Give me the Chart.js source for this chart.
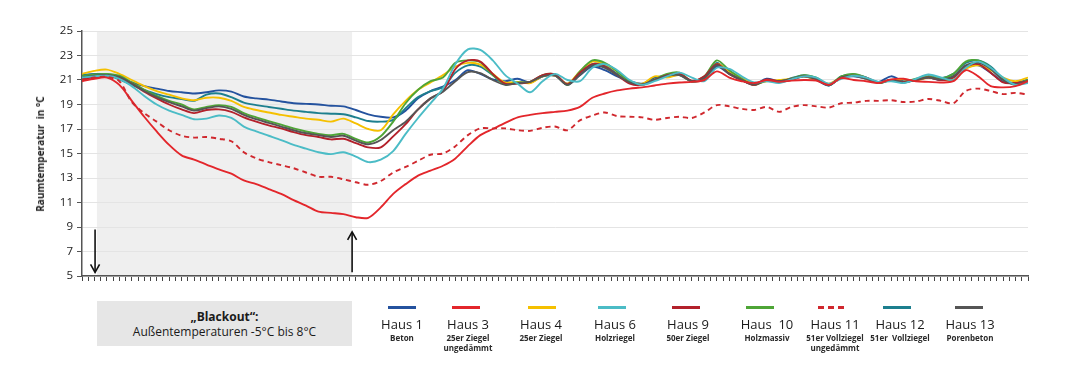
<!DOCTYPE html>
<html><head><meta charset="utf-8">
<script src="https://cdn.jsdelivr.net/npm/chart.js@4.4.1/dist/chart.umd.min.js"></script>
<style>
html,body{margin:0;padding:0;background:#fff;width:1068px;height:383px;overflow:hidden;font-family:'Open Sans',sans-serif}
#wrap{position:relative;width:1068px;height:383px}
canvas{position:absolute;left:0;top:0}
.ytitle{position:absolute;left:40px;top:154px;transform:translate(-50%,-50%) rotate(-90deg);font-size:10px;font-weight:bold;white-space:nowrap;color:#222}
.bo{position:absolute;left:97px;top:301px;width:255px;height:45px;background:#e6e6e6;text-align:center;font-size:12px;color:#1a1a1a;line-height:15px;padding-top:8px;box-sizing:border-box}
.lgl{position:absolute;top:306px;height:3px;width:28px}
.lgt{position:absolute;top:315px;width:90px;margin-left:-45px;text-align:center;color:#1a1a1a}
.lgt .n{font-size:13px;line-height:18px}
.lgt .s{font-size:8px;font-weight:bold;line-height:10px;color:#2a2a2a}
</style></head>
<body><div id="wrap"><canvas id="c" width="1068" height="383"></canvas>
<div class="ytitle">Raumtemperatur&nbsp; in °C</div>
<div class="bo"><b>„Blackout“:</b><br>Außentemperaturen -5°C bis 8°C</div>
<div id="legend"></div>
</div>
<script>
const steps = [0,2,4,6,8,10,12,14,16,18,20,22,24,26,28,30,32,34,36,38,40,42,44,46,48,50,52,54,56,58,60,62,64,66,68,70,72,74,76,78,80,82,84,86,88,90,92,94,96,98,100,102,104,106,108,110,112,114,116,118,120,122,124,126,128,130,132,134,136,138,140,142,144,146,148,150,152];
const yTicks = [5,7,9,11,13,15,17,19,21,23,25];
const houses = ['Haus 1','Haus 3','Haus 4','Haus 6','Haus 9','Haus  10','Haus 11','Haus 12','Haus 13'];
const subtitles = ['Beton','25er Ziegel<br>ungedämmt','25er Ziegel','Holzriegel','50er Ziegel','Holzmassiv','51er Vollziegel<br>ungedämmt','51er&nbsp; Vollziegel','Porenbeton'];
const blackoutStart = 2.4, blackoutEnd = 43.4;

const haus1 = [21.4,21.5,21.45,21.15,20.8,20.5,20.3,20.1,20.0,19.9,
20.0,20.15,20.05,19.65,19.5,19.4,19.25,19.1,19.05,19.0,
18.9,18.85,18.55,18.2,18.0,17.95,18.5,19.5,20.1,20.45,
21.0,21.8,21.5,21.05,20.9,21.1,20.8,21.3,21.35,20.7,
21.4,22.1,21.8,21.3,20.9,20.7,21.2,21.3,21.4,20.9,
21.1,22.1,21.5,21.0,20.65,21.1,20.9,21.1,21.3,21.0,
20.55,21.2,21.3,21.1,20.85,21.3,20.9,21.0,21.2,21.0,
21.3,22.0,22.2,21.6,20.85,20.8,21.0];
const haus3 = [20.9,21.1,21.2,20.6,19.3,18.0,16.8,15.7,14.85,14.5,
14.1,13.7,13.35,12.8,12.5,12.1,11.7,11.2,10.75,10.25,
10.15,10.05,9.8,9.75,10.6,11.7,12.5,13.2,13.6,14.0,
14.6,15.6,16.5,17.0,17.5,17.95,18.15,18.3,18.4,18.5,
18.8,19.55,19.9,20.15,20.3,20.4,20.55,20.7,20.8,20.85,
21.0,21.7,21.2,20.9,20.75,21.0,20.85,20.95,21.0,20.95,
20.6,21.15,21.0,20.9,20.75,21.05,21.1,20.9,20.85,20.8,
20.9,21.8,21.3,20.5,20.4,20.5,20.9];
const haus4 = [21.5,21.75,21.85,21.5,21.0,20.5,20.1,19.8,19.5,19.35,
19.55,19.55,19.3,18.8,18.55,18.35,18.15,18.0,17.85,17.75,
17.6,17.85,17.45,17.0,16.9,18.2,19.3,20.2,20.8,21.4,
22.1,22.4,22.25,21.5,20.8,20.85,20.75,21.3,21.35,20.7,
21.7,22.5,22.3,21.7,20.9,20.7,21.3,21.2,21.4,20.9,
21.1,22.3,21.7,21.2,20.7,20.9,21.0,21.1,21.3,21.0,
20.7,21.2,21.4,21.1,20.8,21.0,21.05,20.95,21.2,21.05,
21.0,21.9,22.2,21.8,21.2,20.9,21.2];
const haus6 = [21.2,21.3,21.35,21.1,20.5,19.7,19.0,18.5,18.15,17.8,
17.85,18.1,17.9,17.2,16.8,16.45,16.1,15.7,15.4,15.1,
14.95,15.1,14.75,14.3,14.5,15.2,16.6,17.9,19.1,20.3,
22.3,23.5,23.45,22.6,21.4,20.7,20.0,20.9,21.5,21.0,
20.9,22.0,22.3,21.8,21.0,20.6,20.9,21.3,21.6,21.2,
20.9,22.0,21.9,21.3,20.8,20.9,20.75,21.05,21.3,21.2,
20.7,21.1,21.35,21.2,20.85,20.9,20.75,21.1,21.45,21.2,
21.0,22.0,22.5,22.0,21.2,20.6,20.75];
const haus9 = [21.1,21.2,21.3,21.2,20.7,20.05,19.5,19.0,18.6,18.3,
18.55,18.6,18.4,17.95,17.6,17.3,17.05,16.75,16.5,16.35,
16.15,16.2,15.85,15.5,15.5,16.4,17.4,18.6,19.5,20.1,
21.9,22.6,22.5,21.5,20.7,20.7,20.85,21.4,21.45,20.65,
21.6,22.3,22.1,21.4,20.7,20.6,21.0,21.4,21.5,20.95,
21.3,22.3,21.5,21.0,20.6,21.05,20.9,21.0,21.3,21.1,
20.6,21.2,21.35,21.2,20.8,21.0,20.85,21.0,21.2,21.0,
21.2,22.1,22.3,21.6,20.8,20.75,20.9];
const haus10 = [21.3,21.45,21.5,21.35,20.8,20.2,19.7,19.3,19.0,18.6,
18.8,18.95,18.8,18.3,17.95,17.65,17.35,17.05,16.8,16.6,
16.5,16.6,16.2,15.9,16.4,17.6,19.1,20.2,20.9,21.2,
22.4,22.6,22.45,21.4,20.65,20.8,20.85,21.4,21.45,20.6,
21.7,22.6,22.4,21.7,20.9,20.6,21.05,21.5,21.6,20.9,
21.3,22.6,21.8,21.1,20.6,20.95,20.9,21.1,21.4,21.2,
20.6,21.3,21.5,21.2,20.75,21.0,20.85,21.1,21.3,21.1,
21.5,22.5,22.6,22.0,21.0,20.7,21.0];
const haus11 = [21.0,21.2,21.25,20.9,19.2,18.3,17.6,16.9,16.45,16.3,
16.35,16.2,16.0,15.1,14.6,14.3,14.05,13.8,13.45,13.1,
13.1,12.9,12.65,12.45,12.75,13.45,13.9,14.4,14.9,15.0,
15.6,16.5,17.05,17.05,17.05,16.9,16.85,17.1,17.2,16.9,
17.7,18.1,18.35,18.05,18.0,17.95,17.75,17.9,18.0,17.9,
18.35,18.95,18.85,18.65,18.55,18.8,18.4,18.8,18.95,18.85,
18.75,19.1,19.15,19.3,19.3,19.35,19.2,19.25,19.45,19.3,
19.1,20.1,20.3,20.1,19.85,19.95,19.8];
const haus12 = [21.4,21.45,21.4,21.05,20.6,20.2,19.85,19.6,19.45,19.3,
19.8,19.9,19.6,19.15,18.95,18.8,18.65,18.5,18.4,18.3,
18.25,18.2,17.95,17.65,17.6,17.75,18.7,19.6,20.1,20.4,
21.6,22.2,22.1,21.4,20.65,20.8,20.8,21.3,21.4,20.6,
21.5,22.3,22.2,21.5,20.8,20.65,21.0,21.4,21.5,20.85,
21.25,22.4,21.6,21.0,20.6,21.0,20.85,21.15,21.4,21.15,
20.55,21.3,21.45,21.2,20.75,21.0,20.8,21.05,21.3,21.15,
21.5,22.4,22.6,22.1,21.1,20.6,20.9];
const haus13 = [21.2,21.35,21.4,21.25,20.7,20.1,19.6,19.2,18.85,18.5,
18.7,18.85,18.65,18.15,17.8,17.5,17.2,16.9,16.65,16.5,
16.35,16.45,16.05,15.75,16.1,16.9,17.6,18.6,19.5,20.05,
20.9,21.65,21.55,21.0,20.6,20.75,20.85,21.3,21.35,20.6,
21.4,22.2,22.0,21.4,20.8,20.65,21.0,21.35,21.4,20.9,
21.15,22.2,21.5,21.0,20.65,20.95,20.9,21.1,21.3,21.05,
20.6,21.2,21.35,21.1,20.8,21.0,20.8,21.0,21.2,21.05,
21.3,22.2,22.4,21.9,21.0,20.65,20.9];

const series = [haus1,haus3,haus4,haus6,haus9,haus10,haus11,haus12,haus13];
const colors = ['#24529e','#e3262b','#f5c000','#4bbcc6','#b3212b','#4ea536','#d0282e','#1d7f8e','#555555'];
const dashes = [[],[],[],[],[],[],[5,4],[],[]];
const drawOrder = [6,1,3,8,4,5,2,7,0];

const datasets = drawOrder.map(k => ({
  label: houses[k],
  data: steps.map((x,i) => ({x, y: series[k][i]})),
  borderColor: colors[k],
  borderWidth: 1.9,
  borderDash: dashes[k],
  pointRadius: 0,
  tension: 0.3,
  fill: false
}));

const bgPlugin = {
  id: 'bg',
  beforeDraw(chart) {
    const {ctx, chartArea, scales} = chart;
    const x0 = scales.x.getPixelForValue(blackoutStart), x1 = scales.x.getPixelForValue(blackoutEnd);
    ctx.save();
    ctx.fillStyle = '#efefef';
    ctx.fillRect(x0, chartArea.top, x1 - x0, chartArea.bottom - chartArea.top);
    ctx.restore();
  },
  afterDatasetsDraw(chart) {
    const {ctx, scales} = chart;
    function arrow(xv, yFrom, yTo) {
      const x = scales.x.getPixelForValue(xv);
      const a = scales.y.getPixelForValue(yFrom), b = scales.y.getPixelForValue(yTo);
      const dir = b > a ? 1 : -1;
      ctx.save();
      ctx.strokeStyle = '#111'; ctx.lineWidth = 1.6;
      ctx.beginPath(); ctx.moveTo(x, a); ctx.lineTo(x, b); ctx.stroke();
      ctx.beginPath(); ctx.moveTo(x - 4.5, b - dir * 8); ctx.lineTo(x, b); ctx.lineTo(x + 4.5, b - dir * 8); ctx.stroke();
      ctx.restore();
    }
    arrow(2.1, 8.8, 5.3);
    arrow(43.4, 5.3, 8.6);
  }
};

new Chart(document.getElementById('c'), {
  type: 'line',
  data: { datasets },
  plugins: [bgPlugin],
  options: {
    responsive: false,
    animation: false,
    events: [],
    layout: { padding: { top: 31, left: 0, right: 40, bottom: 0 } },
    plugins: { legend: { display: false }, tooltip: { enabled: false } },
    scales: {
      x: {
        type: 'linear', min: 0, max: 152,
        afterFit(s) { s.height = 107; },
        ticks: { display: false, stepSize: 1, autoSkip: false, maxTicksLimit: 400 },
        grid: { drawOnChartArea: false, drawTicks: true, tickLength: 5, color: '#444', tickColor: '#444', lineWidth: 1 },
        border: { display: true, color: '#555', width: 1.5 }
      },
      y: {
        min: 5, max: 25,
        afterFit(s) { s.width = 82; },
        afterBuildTicks(s) { s.ticks = yTicks.map(v => ({value: v})); },
        ticks: { color: '#222', font: { family: 'Open Sans', size: 11.5 }, padding: 4 },
        grid: { color: '#e4e4e4', lineWidth: 1, drawTicks: true, tickLength: 5, tickColor: '#555' },
        border: { display: true, color: '#555', width: 1.5 }
      }
    }
  }
});

const lineX = [388,452,528,598,672,746,818,883,955];
const textX = [402,468,541,615,688,767,835,900,970];
const lg = document.getElementById('legend');
houses.forEach((h,k) => {
  const l = document.createElement('div');
  l.className = 'lgl';
  l.style.left = lineX[k] + 'px';
  if (dashes[k].length) {
    l.style.background = 'repeating-linear-gradient(90deg,' + colors[k] + ' 0 6px, transparent 6px 10px)';
  } else {
    l.style.background = colors[k];
  }
  lg.appendChild(l);
  const t = document.createElement('div');
  t.className = 'lgt';
  t.style.left = textX[k] + 'px';
  t.innerHTML = '<div class="n">' + h.replace(/  /g,'&nbsp; ') + '</div><div class="s">' + subtitles[k] + '</div>';
  lg.appendChild(t);
});
</script>
</body></html>
